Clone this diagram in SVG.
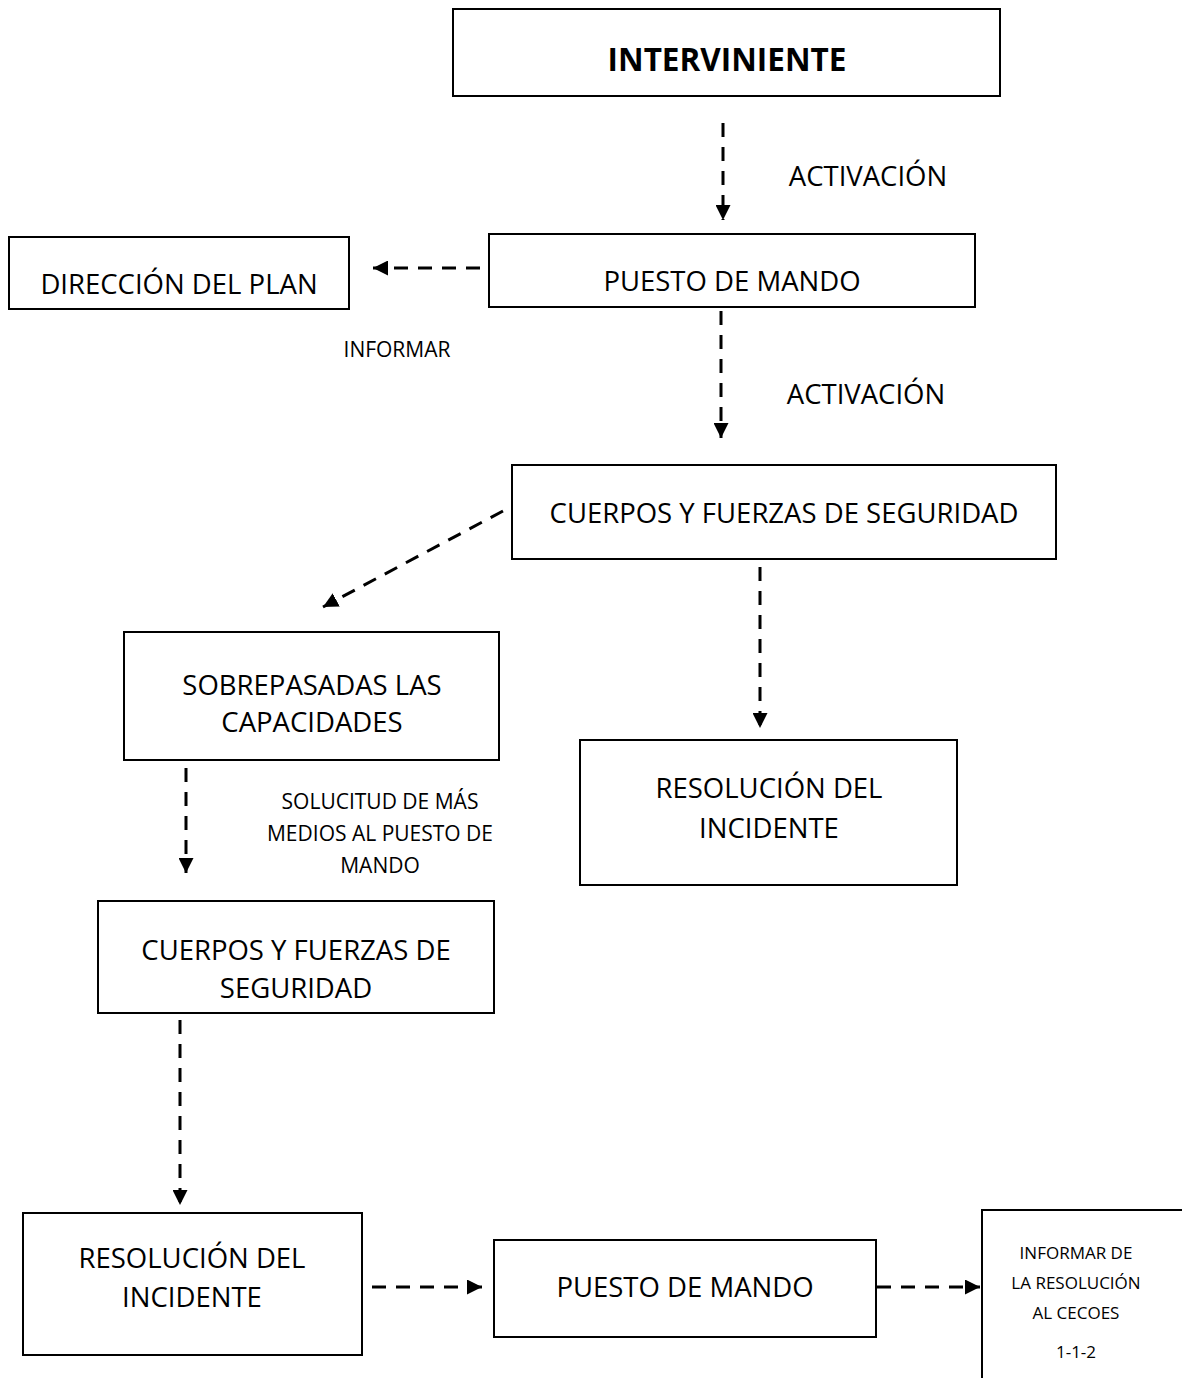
<svg xmlns="http://www.w3.org/2000/svg" width="1182" height="1378" viewBox="0 0 1182 1378">
<style>
.box{fill:#fff;stroke:#000;stroke-width:2}
.t{font-family:"Open Sans","Noto Sans",sans-serif;font-size:27.5px;fill:#000;text-anchor:middle}
.b{font-family:"Open Sans","Noto Sans",sans-serif;font-size:31.5px;font-weight:bold;fill:#000;text-anchor:middle}
.s{font-family:"Open Sans","Noto Sans",sans-serif;font-size:21px;fill:#000;text-anchor:middle}
.r{font-family:"Open Sans","Noto Sans",sans-serif;font-size:17px;fill:#000;text-anchor:middle}
.c{stroke:#000;stroke-width:3;stroke-dasharray:14 10;fill:none}
</style>
<defs>
<marker id="ah" viewBox="0 0 10 10" refX="10" refY="5" markerWidth="5" markerHeight="5" markerUnits="strokeWidth" orient="auto">
<path d="M0,0 L10,5 L0,10 z" fill="#000"/>
</marker>
</defs>
<rect width="1182" height="1378" fill="#fff"/>
<g id="connectors">
<line class="c" x1="723" y1="123" x2="723" y2="220" marker-end="url(#ah)"/>
<line class="c" x1="480" y1="268" x2="373" y2="268" marker-end="url(#ah)"/>
<line class="c" x1="721" y1="311" x2="721" y2="438" marker-end="url(#ah)"/>
<line class="c" x1="503" y1="511" x2="323" y2="607" marker-end="url(#ah)"/>
<line class="c" x1="760" y1="567" x2="760" y2="728" marker-end="url(#ah)"/>
<line class="c" x1="186" y1="768" x2="186" y2="873" marker-end="url(#ah)"/>
<line class="c" x1="180" y1="1020" x2="180" y2="1205" marker-end="url(#ah)"/>
<line class="c" x1="372" y1="1287" x2="482" y2="1287" marker-end="url(#ah)"/>
<line class="c" x1="877" y1="1287" x2="980" y2="1287" marker-end="url(#ah)"/>
<text class="t" x="868" y="186">ACTIVACIÓN</text>
<text class="t" x="866" y="404">ACTIVACIÓN</text>
<text class="s" x="397" y="357">INFORMAR</text>
<text class="s" x="380" y="809">SOLUCITUD DE MÁS</text>
<text class="s" x="380" y="841">MEDIOS AL PUESTO DE</text>
<text class="s" x="380" y="873">MANDO</text>
</g>
<g id="interviniente">
<rect class="box" x="453" y="9" width="547" height="87"/>
<text class="b" x="727" y="71">INTERVINIENTE</text>
</g>
<g id="puesto1">
<rect class="box" x="489" y="234" width="486" height="73"/>
<text class="t" x="732" y="291">PUESTO DE MANDO</text>
</g>
<g id="direccion">
<rect class="box" x="9" y="237" width="340" height="72"/>
<text class="t" x="179" y="294">DIRECCIÓN DEL PLAN</text>
</g>
<g id="cuerpos1">
<rect class="box" x="512" y="465" width="544" height="94"/>
<text class="t" x="784" y="523">CUERPOS Y FUERZAS DE SEGURIDAD</text>
</g>
<g id="sobrepasadas">
<rect class="box" x="124" y="632" width="375" height="128"/>
<text class="t" x="312" y="695">SOBREPASADAS LAS</text>
<text class="t" x="312" y="732">CAPACIDADES</text>
</g>
<g id="resolucion1">
<rect class="box" x="580" y="740" width="377" height="145"/>
<text class="t" x="769" y="798">RESOLUCIÓN DEL</text>
<text class="t" x="769" y="838">INCIDENTE</text>
</g>
<g id="cuerpos2">
<rect class="box" x="98" y="901" width="396" height="112"/>
<text class="t" x="296" y="960">CUERPOS Y FUERZAS DE</text>
<text class="t" x="296" y="998">SEGURIDAD</text>
</g>
<g id="resolucion2">
<rect class="box" x="23" y="1213" width="339" height="142"/>
<text class="t" x="192" y="1268">RESOLUCIÓN DEL</text>
<text class="t" x="192" y="1307">INCIDENTE</text>
</g>
<g id="puesto2">
<rect class="box" x="494" y="1240" width="382" height="97"/>
<text class="t" x="685" y="1297">PUESTO DE MANDO</text>
</g>
<g id="informar">
<rect class="box" x="982" y="1210" width="220" height="190"/>
<text class="r" x="1076" y="1259">INFORMAR DE</text>
<text class="r" x="1076" y="1289">LA RESOLUCIÓN</text>
<text class="r" x="1076" y="1319">AL CECOES</text>
<text class="r" x="1076" y="1358">1-1-2</text>
</g>
</svg>
